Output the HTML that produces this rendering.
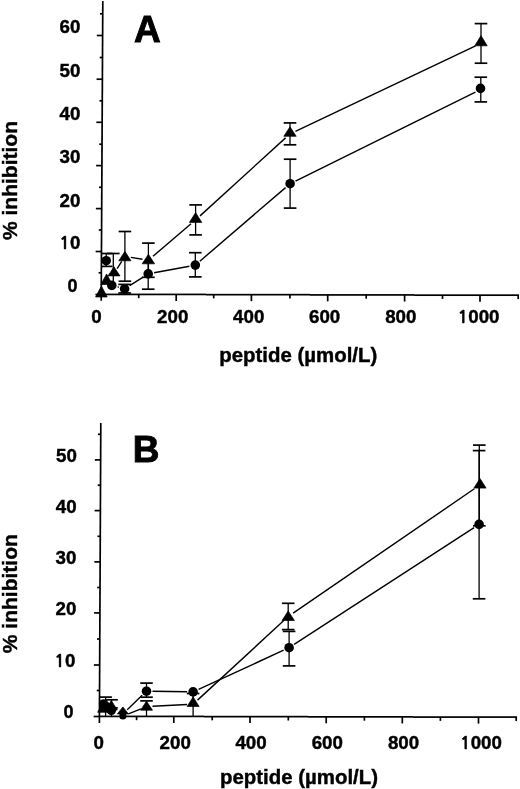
<!DOCTYPE html>
<html><head><meta charset="utf-8"><title>Figure</title>
<style>
html,body{margin:0;padding:0;background:#fff;}
body{width:520px;height:789px;overflow:hidden;}
svg{display:block;}
text{font-family:"Liberation Sans",Arial,Helvetica,sans-serif;fill:#000;stroke:none;}
line{stroke:#000;}
.lab text{stroke:#000;stroke-width:0.4px;}
polygon{stroke:#000;stroke-width:0.7px;stroke-linejoin:miter;fill:#000;}
circle{stroke:none;fill:#000;}
rect.ax{stroke:none;fill:#000;}
</style></head>
<body>
<svg width="520" height="789" viewBox="0 0 520 789">
<rect width="520" height="789" fill="#fff"/>
<g fill="#000" stroke-linecap="butt">
<line x1="102.80" y1="1.00" x2="101.20" y2="300.80" stroke-width="1.7"/>
<line x1="96.82" y1="35.50" x2="102.62" y2="35.50" stroke-width="1.7"/>
<line x1="96.58" y1="79.20" x2="102.38" y2="79.20" stroke-width="1.7"/>
<line x1="96.35" y1="122.30" x2="102.15" y2="122.30" stroke-width="1.7"/>
<line x1="96.12" y1="165.60" x2="101.92" y2="165.60" stroke-width="1.7"/>
<line x1="95.89" y1="208.60" x2="101.69" y2="208.60" stroke-width="1.7"/>
<line x1="95.66" y1="251.50" x2="101.46" y2="251.50" stroke-width="1.7"/>
<line x1="95.43" y1="294.50" x2="101.23" y2="294.50" stroke-width="1.7"/>
<line x1="99.93" y1="13.80" x2="102.73" y2="13.80" stroke-width="1.7"/>
<line x1="99.70" y1="57.50" x2="102.50" y2="57.50" stroke-width="1.7"/>
<line x1="99.47" y1="100.80" x2="102.27" y2="100.80" stroke-width="1.7"/>
<line x1="99.24" y1="144.20" x2="102.04" y2="144.20" stroke-width="1.7"/>
<line x1="99.01" y1="187.30" x2="101.81" y2="187.30" stroke-width="1.7"/>
<line x1="98.78" y1="230.00" x2="101.58" y2="230.00" stroke-width="1.7"/>
<line x1="98.55" y1="272.80" x2="101.35" y2="272.80" stroke-width="1.7"/>
<rect class="ax" x="101.00" y="293.57" width="105.00" height="1.70"/>
<rect class="ax" x="206.00" y="293.82" width="104.00" height="1.70"/>
<rect class="ax" x="310.00" y="294.07" width="104.00" height="1.70"/>
<rect class="ax" x="414.00" y="294.32" width="105.00" height="1.70"/>
<line x1="176.20" y1="294.48" x2="176.20" y2="300.98" stroke-width="1.7"/>
<line x1="251.40" y1="294.66" x2="251.40" y2="301.16" stroke-width="1.7"/>
<line x1="327.70" y1="294.84" x2="327.70" y2="301.34" stroke-width="1.7"/>
<line x1="404.60" y1="295.03" x2="404.60" y2="301.53" stroke-width="1.7"/>
<line x1="480.00" y1="295.21" x2="480.00" y2="301.71" stroke-width="1.7"/>
<line x1="138.70" y1="294.39" x2="138.70" y2="298.19" stroke-width="1.7"/>
<line x1="213.70" y1="294.57" x2="213.70" y2="298.37" stroke-width="1.7"/>
<line x1="289.90" y1="294.75" x2="289.90" y2="298.55" stroke-width="1.7"/>
<line x1="366.20" y1="294.93" x2="366.20" y2="298.73" stroke-width="1.7"/>
<line x1="442.50" y1="295.12" x2="442.50" y2="298.92" stroke-width="1.7"/>
<line x1="518.20" y1="295.30" x2="518.20" y2="299.10" stroke-width="1.7"/>
<line x1="113.30" y1="253.50" x2="113.30" y2="289.50" stroke-width="1.3"/>
<line x1="107.00" y1="253.50" x2="119.60" y2="253.50" stroke-width="1.7"/>
<line x1="124.90" y1="231.50" x2="124.90" y2="281.20" stroke-width="1.3"/>
<line x1="118.60" y1="231.50" x2="131.20" y2="231.50" stroke-width="1.7"/>
<line x1="118.60" y1="281.20" x2="131.20" y2="281.20" stroke-width="1.7"/>
<line x1="148.40" y1="243.10" x2="148.40" y2="277.30" stroke-width="1.3"/>
<line x1="142.10" y1="243.10" x2="154.70" y2="243.10" stroke-width="1.7"/>
<line x1="142.10" y1="277.30" x2="154.70" y2="277.30" stroke-width="1.7"/>
<line x1="195.60" y1="204.90" x2="195.60" y2="234.90" stroke-width="1.3"/>
<line x1="189.30" y1="204.90" x2="201.90" y2="204.90" stroke-width="1.7"/>
<line x1="189.30" y1="234.90" x2="201.90" y2="234.90" stroke-width="1.7"/>
<line x1="290.00" y1="122.90" x2="290.00" y2="144.80" stroke-width="1.3"/>
<line x1="283.70" y1="122.90" x2="296.30" y2="122.90" stroke-width="1.7"/>
<line x1="283.70" y1="144.80" x2="296.30" y2="144.80" stroke-width="1.7"/>
<line x1="481.00" y1="23.60" x2="481.00" y2="63.20" stroke-width="1.3"/>
<line x1="474.70" y1="23.60" x2="487.30" y2="23.60" stroke-width="1.7"/>
<line x1="474.70" y1="63.20" x2="487.30" y2="63.20" stroke-width="1.7"/>
<line x1="106.20" y1="253.50" x2="106.20" y2="266.60" stroke-width="1.3"/>
<line x1="124.60" y1="284.40" x2="124.60" y2="293.00" stroke-width="1.3"/>
<line x1="118.30" y1="284.40" x2="130.90" y2="284.40" stroke-width="1.7"/>
<line x1="118.30" y1="293.00" x2="130.90" y2="293.00" stroke-width="1.7"/>
<line x1="148.20" y1="263.70" x2="148.20" y2="289.20" stroke-width="1.3"/>
<line x1="141.90" y1="289.20" x2="154.50" y2="289.20" stroke-width="1.7"/>
<line x1="195.30" y1="252.70" x2="195.30" y2="276.90" stroke-width="1.3"/>
<line x1="189.00" y1="252.70" x2="201.60" y2="252.70" stroke-width="1.7"/>
<line x1="189.00" y1="276.90" x2="201.60" y2="276.90" stroke-width="1.7"/>
<line x1="290.10" y1="159.20" x2="290.10" y2="208.10" stroke-width="1.3"/>
<line x1="283.80" y1="159.20" x2="296.40" y2="159.20" stroke-width="1.7"/>
<line x1="283.80" y1="208.10" x2="296.40" y2="208.10" stroke-width="1.7"/>
<line x1="480.80" y1="77.20" x2="480.80" y2="101.90" stroke-width="1.3"/>
<line x1="474.50" y1="77.20" x2="487.10" y2="77.20" stroke-width="1.7"/>
<line x1="474.50" y1="101.90" x2="487.10" y2="101.90" stroke-width="1.7"/>
<line x1="101.60" y1="253.50" x2="112.50" y2="253.50" stroke-width="1.7"/>
<line x1="101.60" y1="266.40" x2="112.50" y2="266.40" stroke-width="1.7"/>
<line x1="117.21" y1="268.53" x2="121.69" y2="261.47" stroke-width="1.4"/>
<line x1="130.82" y1="257.36" x2="142.48" y2="259.24" stroke-width="1.4"/>
<line x1="152.96" y1="256.30" x2="191.04" y2="223.80" stroke-width="1.4"/>
<line x1="200.03" y1="215.86" x2="285.57" y2="137.89" stroke-width="1.4"/>
<line x1="295.42" y1="131.28" x2="475.58" y2="45.97" stroke-width="1.4"/>
<line x1="117.60" y1="286.94" x2="118.80" y2="287.26" stroke-width="1.4"/>
<line x1="129.67" y1="285.60" x2="143.13" y2="277.10" stroke-width="1.4"/>
<line x1="154.10" y1="272.80" x2="189.40" y2="266.20" stroke-width="1.4"/>
<line x1="199.85" y1="261.19" x2="285.55" y2="187.61" stroke-width="1.4"/>
<line x1="295.48" y1="181.04" x2="475.42" y2="92.16" stroke-width="1.4"/>
<polygon points="101.40,286.00 95.60,297.00 107.20,297.00"/>
<polygon points="106.60,274.00 100.80,284.50 112.40,284.50"/>
<polygon points="114.00,266.80 108.00,275.90 120.00,275.90"/>
<polygon points="124.90,251.30 118.80,260.80 131.00,260.80"/>
<polygon points="148.40,254.20 142.20,263.80 154.60,263.80"/>
<polygon points="195.60,212.60 189.40,222.40 201.80,222.40"/>
<polygon points="290.00,126.80 283.80,136.30 296.20,136.30"/>
<polygon points="481.00,35.60 474.80,45.80 487.20,45.80"/>
<circle cx="106.20" cy="260.70" r="4.8"/>
<circle cx="111.80" cy="285.40" r="4.8"/>
<circle cx="124.60" cy="288.80" r="4.8"/>
<circle cx="148.20" cy="273.90" r="4.8"/>
<circle cx="195.30" cy="265.10" r="4.8"/>
<circle cx="290.10" cy="183.70" r="4.8"/>
<circle cx="480.50" cy="88.40" r="4.8"/>
<g font-weight="bold" class="lab">
<text x="0" y="0" transform="translate(80.40,32.90) scale(1.04,1)" font-size="18" text-anchor="end">60</text>
<text x="0" y="0" transform="translate(80.40,76.70) scale(1.04,1)" font-size="18" text-anchor="end">50</text>
<text x="0" y="0" transform="translate(80.40,120.30) scale(1.04,1)" font-size="18" text-anchor="end">40</text>
<text x="0" y="0" transform="translate(80.40,163.10) scale(1.04,1)" font-size="18" text-anchor="end">30</text>
<text x="0" y="0" transform="translate(80.40,206.50) scale(1.04,1)" font-size="18" text-anchor="end">20</text>
<text x="0" y="0" transform="translate(80.40,249.00) scale(1.04,1)" font-size="18" text-anchor="end"><tspan font-family="NanumGothic, 'Liberation Sans', sans-serif" font-size="17">1</tspan>0</text>
<text x="77.50" y="291.80" font-size="18" text-anchor="end">0</text>
<text x="0" y="0" transform="translate(96.40,322.90) scale(1.04,1)" font-size="18" text-anchor="middle">0</text>
<text x="0" y="0" transform="translate(172.70,322.90) scale(1.04,1)" font-size="18" text-anchor="middle">200</text>
<text x="0" y="0" transform="translate(248.70,322.90) scale(1.04,1)" font-size="18" text-anchor="middle">400</text>
<text x="0" y="0" transform="translate(324.60,322.90) scale(1.04,1)" font-size="18" text-anchor="middle">600</text>
<text x="0" y="0" transform="translate(400.80,322.90) scale(1.04,1)" font-size="18" text-anchor="middle">800</text>
<text x="0" y="0" transform="translate(478.50,322.90) scale(1.04,1)" font-size="18" text-anchor="middle"><tspan font-family="NanumGothic, 'Liberation Sans', sans-serif" font-size="17">1</tspan>000</text>
<text x="147.40" y="42.10" font-size="37" text-anchor="middle" style="stroke:#000;stroke-width:0.9px">A</text>
<text x="219.30" y="361.50" font-size="19.5" text-anchor="start" textLength="158" lengthAdjust="spacingAndGlyphs">peptide (µmol/L)</text>
<text x="0" y="0" font-size="21" text-anchor="middle" transform="translate(17.2,180.5) rotate(-90)">% inhibition</text>
</g>
<line x1="100.80" y1="423.10" x2="99.40" y2="723.00" stroke-width="1.7"/>
<line x1="94.83" y1="459.90" x2="100.63" y2="459.90" stroke-width="1.7"/>
<line x1="94.59" y1="510.60" x2="100.39" y2="510.60" stroke-width="1.7"/>
<line x1="94.35" y1="561.90" x2="100.15" y2="561.90" stroke-width="1.7"/>
<line x1="94.11" y1="612.90" x2="99.91" y2="612.90" stroke-width="1.7"/>
<line x1="93.87" y1="665.00" x2="99.67" y2="665.00" stroke-width="1.7"/>
<line x1="93.63" y1="716.50" x2="99.43" y2="716.50" stroke-width="1.7"/>
<line x1="97.95" y1="434.30" x2="100.75" y2="434.30" stroke-width="1.7"/>
<line x1="97.71" y1="485.20" x2="100.51" y2="485.20" stroke-width="1.7"/>
<line x1="97.47" y1="536.30" x2="100.27" y2="536.30" stroke-width="1.7"/>
<line x1="97.23" y1="587.50" x2="100.03" y2="587.50" stroke-width="1.7"/>
<line x1="96.99" y1="639.00" x2="99.79" y2="639.00" stroke-width="1.7"/>
<line x1="96.75" y1="690.50" x2="99.55" y2="690.50" stroke-width="1.7"/>
<rect class="ax" x="99.40" y="715.56" width="104.60" height="1.70"/>
<rect class="ax" x="204.00" y="715.79" width="104.00" height="1.70"/>
<rect class="ax" x="308.00" y="716.01" width="105.00" height="1.70"/>
<rect class="ax" x="413.00" y="716.24" width="104.00" height="1.70"/>
<line x1="173.80" y1="716.46" x2="173.80" y2="722.96" stroke-width="1.7"/>
<line x1="250.00" y1="716.62" x2="250.00" y2="723.12" stroke-width="1.7"/>
<line x1="326.20" y1="716.79" x2="326.20" y2="723.29" stroke-width="1.7"/>
<line x1="402.30" y1="716.95" x2="402.30" y2="723.45" stroke-width="1.7"/>
<line x1="478.50" y1="717.12" x2="478.50" y2="723.62" stroke-width="1.7"/>
<line x1="136.60" y1="716.38" x2="136.60" y2="720.18" stroke-width="1.7"/>
<line x1="212.20" y1="716.54" x2="212.20" y2="720.34" stroke-width="1.7"/>
<line x1="288.30" y1="716.71" x2="288.30" y2="720.51" stroke-width="1.7"/>
<line x1="364.40" y1="716.87" x2="364.40" y2="720.67" stroke-width="1.7"/>
<line x1="440.40" y1="717.04" x2="440.40" y2="720.84" stroke-width="1.7"/>
<line x1="516.20" y1="717.20" x2="516.20" y2="721.00" stroke-width="1.7"/>
<line x1="105.60" y1="697.10" x2="105.60" y2="716.00" stroke-width="1.3"/>
<line x1="99.30" y1="697.10" x2="111.90" y2="697.10" stroke-width="1.7"/>
<line x1="111.50" y1="699.80" x2="111.50" y2="716.00" stroke-width="1.3"/>
<line x1="105.20" y1="699.80" x2="117.80" y2="699.80" stroke-width="1.7"/>
<line x1="105.20" y1="707.90" x2="117.80" y2="707.90" stroke-width="1.7"/>
<line x1="146.50" y1="683.10" x2="146.50" y2="697.20" stroke-width="1.3"/>
<line x1="140.20" y1="683.10" x2="152.80" y2="683.10" stroke-width="1.7"/>
<line x1="140.20" y1="697.20" x2="152.80" y2="697.20" stroke-width="1.7"/>
<line x1="146.50" y1="700.90" x2="146.50" y2="716.00" stroke-width="1.3"/>
<line x1="140.20" y1="700.90" x2="152.80" y2="700.90" stroke-width="1.7"/>
<line x1="193.10" y1="693.50" x2="193.10" y2="716.00" stroke-width="1.3"/>
<line x1="186.80" y1="693.50" x2="199.40" y2="693.50" stroke-width="1.7"/>
<line x1="288.20" y1="603.30" x2="288.20" y2="629.60" stroke-width="1.3"/>
<line x1="281.90" y1="603.30" x2="294.50" y2="603.30" stroke-width="1.7"/>
<line x1="281.90" y1="629.60" x2="294.50" y2="629.60" stroke-width="1.7"/>
<line x1="289.10" y1="631.40" x2="289.10" y2="665.90" stroke-width="1.3"/>
<line x1="282.80" y1="631.40" x2="295.40" y2="631.40" stroke-width="1.7"/>
<line x1="282.80" y1="665.90" x2="295.40" y2="665.90" stroke-width="1.7"/>
<line x1="479.30" y1="445.10" x2="479.30" y2="525.80" stroke-width="1.3"/>
<line x1="473.00" y1="445.10" x2="485.60" y2="445.10" stroke-width="1.7"/>
<line x1="473.00" y1="525.80" x2="485.60" y2="525.80" stroke-width="1.7"/>
<line x1="479.10" y1="450.60" x2="479.10" y2="598.80" stroke-width="1.3"/>
<line x1="472.80" y1="450.60" x2="485.40" y2="450.60" stroke-width="1.7"/>
<line x1="472.80" y1="598.80" x2="485.40" y2="598.80" stroke-width="1.7"/>
<line x1="128.46" y1="713.94" x2="140.94" y2="708.86" stroke-width="1.4"/>
<line x1="152.49" y1="706.29" x2="187.11" y2="704.51" stroke-width="1.4"/>
<line x1="197.51" y1="700.13" x2="283.79" y2="620.57" stroke-width="1.4"/>
<line x1="293.15" y1="613.11" x2="474.35" y2="488.79" stroke-width="1.4"/>
<line x1="127.22" y1="709.83" x2="142.18" y2="695.37" stroke-width="1.4"/>
<line x1="152.50" y1="691.29" x2="187.10" y2="691.81" stroke-width="1.4"/>
<line x1="198.55" y1="689.39" x2="283.65" y2="650.21" stroke-width="1.4"/>
<line x1="294.13" y1="644.43" x2="474.07" y2="527.67" stroke-width="1.4"/>
<polygon points="103.60,701.00 97.60,712.30 109.60,712.30"/>
<polygon points="105.60,700.00 99.60,709.50 111.60,709.50"/>
<polygon points="111.30,700.50 105.30,710.00 117.30,710.00"/>
<polygon points="122.90,706.90 117.30,714.00 128.50,714.00"/>
<polygon points="146.50,701.20 140.50,710.20 152.50,710.20"/>
<polygon points="193.10,696.90 187.10,706.50 199.10,706.50"/>
<polygon points="288.20,610.90 282.00,620.50 294.40,620.50"/>
<polygon points="480.00,478.50 473.90,488.10 486.10,488.10"/>
<circle cx="103.60" cy="704.00" r="4.8"/>
<circle cx="106.00" cy="706.50" r="4.8"/>
<circle cx="111.30" cy="710.30" r="4.8"/>
<circle cx="122.90" cy="716.00" r="3.6"/>
<circle cx="146.50" cy="691.20" r="4.8"/>
<circle cx="193.10" cy="691.90" r="4.8"/>
<circle cx="289.10" cy="647.70" r="4.8"/>
<circle cx="479.10" cy="524.40" r="4.8"/>
<g font-weight="bold" class="lab">
<text x="0" y="0" transform="translate(76.90,461.80) scale(1.04,1)" font-size="18" text-anchor="end">50</text>
<text x="0" y="0" transform="translate(76.60,512.90) scale(1.04,1)" font-size="18" text-anchor="end">40</text>
<text x="0" y="0" transform="translate(76.40,564.10) scale(1.04,1)" font-size="18" text-anchor="end">30</text>
<text x="0" y="0" transform="translate(76.40,615.00) scale(1.04,1)" font-size="18" text-anchor="end">20</text>
<text x="0" y="0" transform="translate(75.40,666.50) scale(1.04,1)" font-size="18" text-anchor="end"><tspan font-family="NanumGothic, 'Liberation Sans', sans-serif" font-size="17">1</tspan>0</text>
<text x="73.60" y="718.00" font-size="18" text-anchor="end">0</text>
<text x="0" y="0" transform="translate(98.80,748.80) scale(1.04,1)" font-size="18" text-anchor="middle">0</text>
<text x="0" y="0" transform="translate(175.20,748.80) scale(1.04,1)" font-size="18" text-anchor="middle">200</text>
<text x="0" y="0" transform="translate(251.00,748.80) scale(1.04,1)" font-size="18" text-anchor="middle">400</text>
<text x="0" y="0" transform="translate(327.30,748.80) scale(1.04,1)" font-size="18" text-anchor="middle">600</text>
<text x="0" y="0" transform="translate(403.50,748.80) scale(1.04,1)" font-size="18" text-anchor="middle">800</text>
<text x="0" y="0" transform="translate(480.90,748.80) scale(1.04,1)" font-size="18" text-anchor="middle"><tspan font-family="NanumGothic, 'Liberation Sans', sans-serif" font-size="17">1</tspan>000</text>
<text x="146.20" y="461.90" font-size="37" text-anchor="middle" style="stroke:#000;stroke-width:0.9px">B</text>
<text x="220.00" y="784.00" font-size="19.5" text-anchor="start" textLength="158" lengthAdjust="spacingAndGlyphs">peptide (µmol/L)</text>
<text x="0" y="0" font-size="21" text-anchor="middle" transform="translate(17.0,593.7) rotate(-90)">% inhibition</text>
</g>
</g>
</svg>
</body></html>
